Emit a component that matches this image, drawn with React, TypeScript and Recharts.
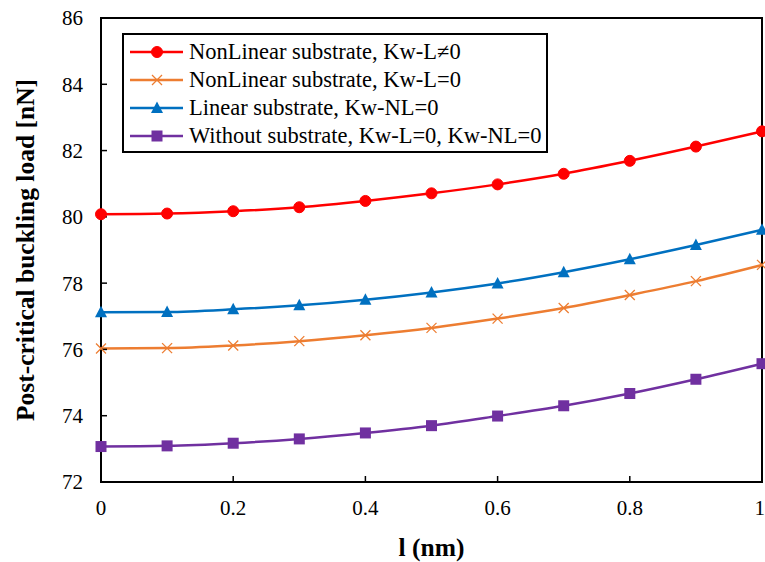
import React from "react";
import { LineChart, Line, XAxis, YAxis, ReferenceArea } from "recharts";

const lengthScale = [0, 0.1, 0.2, 0.3, 0.4, 0.5, 0.6, 0.7, 0.8, 0.9, 1];
const nonLinearKwL = [80.08, 80.1, 80.17, 80.29, 80.48, 80.71, 80.98, 81.3, 81.69, 82.12, 82.58];
const nonLinearKwL0 = [76.03, 76.04, 76.12, 76.25, 76.43, 76.65, 76.93, 77.25, 77.64, 78.06, 78.55];
const linearKwNL0 = [77.12, 77.13, 77.21, 77.33, 77.5, 77.72, 77.99, 78.33, 78.72, 79.15, 79.61];
const withoutSubstrate = [73.07, 73.09, 73.17, 73.3, 73.48, 73.7, 73.99, 74.3, 74.67, 75.1, 75.57];
const xTicks = [0, 0.2, 0.4, 0.6, 0.8, 1];
const yTicks = [72, 74, 76, 78, 80, 82, 84, 86];

const seriesNames = [
  "NonLinear substrate, Kw-L\u22600",
  "NonLinear substrate, Kw-L=0",
  "Linear substrate, Kw-NL=0",
  "Without substrate, Kw-L=0, Kw-NL=0",
];
const colors = ["#FF0000", "#ED7D31", "#0070C0", "#7030A0"];
const keys = ["a", "b", "c", "d"];
const shapes = ["circle", "cross", "triangle", "square"];

const data = lengthScale.map((x, i) => ({
  x,
  a: nonLinearKwL[i],
  b: nonLinearKwL0[i],
  c: linearKwNL0[i],
  d: withoutSubstrate[i],
}));

const FONT = "'Liberation Serif', 'Times New Roman', serif";

function Marker({ cx, cy, shape, color }: any) {
  if (cx == null || cy == null) return null;
  if (shape === "circle") return <circle cx={cx} cy={cy} r={5.5} fill={color} stroke={color} />;
  if (shape === "square") return <rect x={cx - 5.5} y={cy - 5.5} width={11} height={11} fill={color} />;
  if (shape === "triangle")
    return <polygon points={`${cx},${cy - 6.5} ${cx + 6},${cy + 5} ${cx - 6},${cy + 5}`} fill={color} />;
  return (
    <g stroke={color} strokeWidth={1.3}>
      <line x1={cx - 5} y1={cy - 5} x2={cx + 5} y2={cy + 5} />
      <line x1={cx - 5} y1={cy + 5} x2={cx + 5} y2={cy - 5} />
    </g>
  );
}

function makeDot(i: number) {
  return (props: any) => (
    <Marker key={`${keys[i]}-${props.index}`} cx={props.cx} cy={props.cy} shape={shapes[i]} color={colors[i]} />
  );
}

function LegendBox() {
  return (
    <div
      style={{
        position: "absolute",
        left: 122,
        top: 33,
        boxSizing: "border-box",
        width: 426,
        height: 120,
        border: "2px solid #000",
        background: "#fff",
        padding: "3px 0 0 6px",
        fontFamily: FONT,
        fontSize: 22.5,
        color: "#000",
        lineHeight: "28px",
      }}
    >
      {seriesNames.map((n, i) => (
        <div key={n} style={{ display: "flex", alignItems: "center", whiteSpace: "nowrap", height: 28 }}>
          <svg width={54} height={20} style={{ marginRight: 5, flex: "none" }}>
            <line x1={0} y1={10} x2={53} y2={10} stroke={colors[i]} strokeWidth={2.5} />
            <Marker cx={27} cy={10} shape={shapes[i]} color={colors[i]} />
          </svg>
          <span>{n}</span>
        </div>
      ))}
    </div>
  );
}

export default function App() {
  return (
    <div style={{ position: "absolute", left: 0, top: 0, width: 765, height: 562, background: "#fff" }}>
      <LineChart width={765} height={562} data={data} margin={{ top: 18, right: 3, bottom: 50, left: 41 }}>
        <XAxis
          dataKey="x"
          type="number"
          domain={[0, 1]}
          ticks={xTicks}
          tickFormatter={(v: number) => String(v)}
          tickSize={-6}
          tickMargin={24}
          height={30}
          axisLine={{ stroke: "#000", strokeWidth: 2 }}
          tickLine={{ stroke: "#000", strokeWidth: 1.5 }}
          tick={{ fill: "#000", fontFamily: FONT, fontSize: 21 }}
          label={{
            value: "l (nm)",
            position: "insideBottom",
            offset: -44,
            style: { fontFamily: FONT, fontSize: 25.5, fontWeight: "bold", fill: "#000" },
          }}
        />
        <YAxis
          type="number"
          domain={[72, 86]}
          ticks={yTicks}
          tickSize={-6}
          tickMargin={24}
          width={60}
          axisLine={{ stroke: "#000", strokeWidth: 2 }}
          tickLine={{ stroke: "#000", strokeWidth: 1.5 }}
          tick={{ fill: "#000", fontFamily: FONT, fontSize: 21 }}
          label={{
            value: "Post-critical buckling load [nN]",
            angle: -90,
            position: "insideLeft",
            offset: -16,
            style: { fontFamily: FONT, fontSize: 25.5, fontWeight: "bold", fill: "#000", textAnchor: "middle" },
          }}
        />
        <ReferenceArea x1={0} x2={1} y1={72} y2={86} fill="none" stroke="#000" strokeWidth={2} ifOverflow="visible" />
        {keys.map((k, i) => (
          <Line
            key={k}
            dataKey={k}
            name={seriesNames[i]}
            type="monotone"
            stroke={colors[i]}
            strokeWidth={2.5}
            dot={makeDot(i)}
            activeDot={false}
            isAnimationActive={false}
          />
        ))}
      </LineChart>
      <LegendBox />
    </div>
  );
}
